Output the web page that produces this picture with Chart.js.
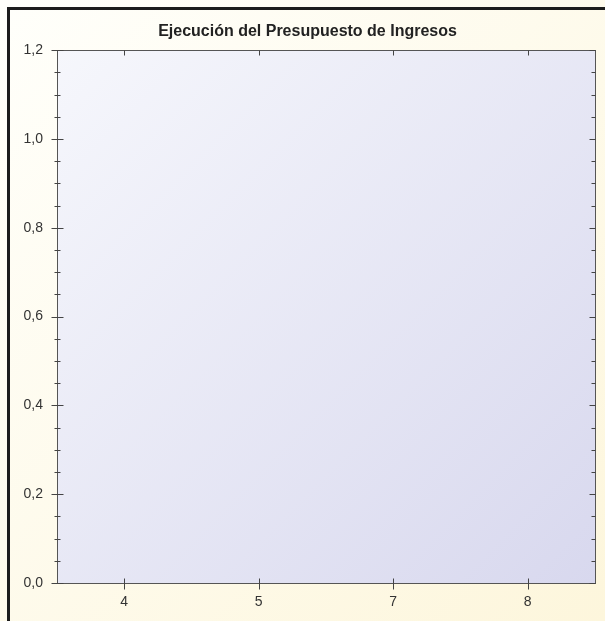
<!DOCTYPE html>
<html>
<head>
<meta charset="utf-8">
<script src="https://cdn.jsdelivr.net/npm/chart.js@4"></script>
<style>
  html, body { margin: 0; padding: 0; background: #fffdf2; }
  #grafica { display: block; }
</style>
</head>
<body>
<canvas id="grafica" width="605" height="621"></canvas>
<script>
// Datos del gráfico (sin valores ejecutados)
const categorias = ['4', '5', '7', '8'];
const ejecucion = [null, null, null, null];
const yMin = 0;
const yMax = 1.2;
const yPaso = 0.2;
const yMenor = 0.05;

// Fondos, marco y marcas de los ejes
const fondo = {
  id: 'fondo',
  beforeDraw(chart) {
    const ctx = chart.ctx;
    const w = chart.width, h = chart.height;
    const a = chart.chartArea;
    ctx.save();
    let g = ctx.createLinearGradient(0, 0, w, h);
    g.addColorStop(0, '#fffffb');
    g.addColorStop(1, '#fdf6dc');
    ctx.fillStyle = g;
    ctx.fillRect(0, 0, w, h);

    g = ctx.createLinearGradient(a.left, a.top, a.right, a.bottom);
    g.addColorStop(0, '#f6f7fc');
    g.addColorStop(1, '#d8d8ee');
    ctx.fillStyle = g;
    ctx.fillRect(a.left, a.top, a.right - a.left, a.bottom - a.top);
    ctx.restore();
  },
  afterDraw(chart) {
    const ctx = chart.ctx;
    const a = chart.chartArea;
    const ys = chart.scales.y, xs = chart.scales.x;
    ctx.save();
    // marco exterior
    ctx.fillStyle = '#1c1c1c';
    ctx.fillRect(7, 7, chart.width - 7, 3);
    ctx.fillRect(7, 7, 3, chart.height - 7);

    // borde del área
    ctx.strokeStyle = '#555';
    ctx.lineWidth = 1;
    ctx.strokeRect(Math.round(a.left) + 0.5, Math.round(a.top) + 0.5,
      Math.round(a.right - a.left), Math.round(a.bottom - a.top));

    ctx.strokeStyle = '#444';
    ctx.beginPath();
    const n = Math.round((yMax - yMin) / yMenor);
    const cada = Math.round(yPaso / yMenor);
    const L = Math.round(a.left) + 0.5, R = Math.round(a.right) + 0.5;
    for (let i = 0; i <= n; i++) {
      const py = Math.round(ys.getPixelForValue(yMin + i * yMenor)) + 0.5;
      const mayor = i % cada === 0;
      ctx.moveTo(L - (mayor ? 6 : 3), py);
      ctx.lineTo(L + (mayor ? 6 : 3), py);
      ctx.moveTo(R - (mayor ? 6 : 4), py);
      ctx.lineTo(R, py);
    }
    const T = Math.round(a.top) + 0.5, B = Math.round(a.bottom) + 0.5;
    categorias.forEach((c, i) => {
      const px = Math.round(xs.getPixelForValue(i)) + 0.5;
      ctx.moveTo(px, B - 5);
      ctx.lineTo(px, B + 6);
      ctx.moveTo(px, T);
      ctx.lineTo(px, T + 5);
    });
    ctx.stroke();
    ctx.restore();
  }
};

const fuente = { family: "'Liberation Sans', Arial, sans-serif", size: 14 };

new Chart(document.getElementById('grafica').getContext('2d'), {
  type: 'bar',
  data: {
    labels: categorias,
    datasets: [{
      label: 'Ejecución',
      data: ejecucion,
      backgroundColor: '#4a6fb5',
    }]
  },
  options: {
    responsive: false,
    animation: false,
    layout: { padding: { left: 20, right: 10, top: 0, bottom: 0 } },
    plugins: {
      legend: { display: false },
      tooltip: { enabled: false },
      title: {
        display: true,
        text: 'Ejecución del Presupuesto de Ingresos',
        color: '#222',
        font: { family: fuente.family, size: 16, weight: 'bold' },
        padding: { top: 22, bottom: 9 },
      },
    },
    scales: {
      x: {
        grid: { display: false, drawTicks: false },
        border: { display: false },
        ticks: { color: '#333', font: fuente, padding: 11 },
        afterFit(s) { s.height = 38; },
      },
      y: {
        min: yMin,
        max: yMax,
        grid: { display: false, drawTicks: false },
        border: { display: false },
        ticks: {
          stepSize: yPaso,
          color: '#333',
          font: fuente,
          padding: 14,
          callback: (v) => v.toFixed(1).replace('.', ','),
        },
        afterFit(s) { s.width = 37; },
      }
    }
  },
  plugins: [fondo],
});
</script>
</body>
</html>
